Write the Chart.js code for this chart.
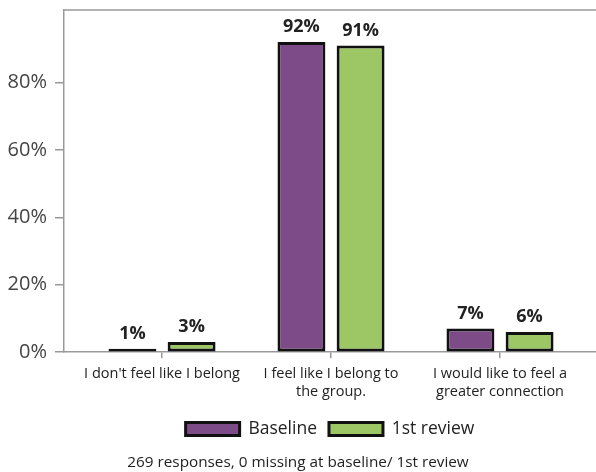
<!DOCTYPE html>
<html>
<head>
<meta charset="utf-8">
<script src="https://cdn.jsdelivr.net/npm/chart.js@4"></script>
<style>
  body { margin: 0; background: #fff; }
  #wrap { width: 596px; height: 472px; }
</style>
</head>
<body>
<div id="wrap"><canvas id="myBarChart"></canvas></div>
<script>
let categories = [
    ["I don't feel like I belong"],
    ["I feel like I belong to", "the group."],
    ["I would like to feel a", "greater connection"]
];
let seriesNames = ["Baseline", "1st review"];
let baseline = [1, 92, 7];
let review = [3, 91, 6];
let yTicks = [0, 20, 40, 60, 80];
let footnote = "269 responses, 0 missing at baseline/ 1st review";

Chart.defaults.font.family = "'Open Sans', sans-serif";

// percent labels above each bar
const barLabels = {
    id: "barLabels",
    afterDatasetsDraw(chart) {
        const ctx = chart.ctx;
        ctx.save();
        ctx.font = "bold 18px 'Open Sans', sans-serif";
        ctx.fillStyle = "#222";
        ctx.textAlign = "center";
        ctx.textBaseline = "bottom";
        chart.data.datasets.forEach((ds, i) => {
            chart.getDatasetMeta(i).data.forEach((bar, j) => {
                ctx.fillText(ds.data[j].y + "%", bar.x, bar.y - 6);
            });
        });
        ctx.restore();
    }
};

// top frame line, legend centred under the plot area
const frameTop = {
    id: "frameTop",
    afterLayout(chart) {
        if (chart.legend) chart.legend.left = chart.chartArea.left;
    },
    beforeDatasetsDraw(chart) {
        const a = chart.chartArea;
        const ctx = chart.ctx;
        ctx.save();
        ctx.strokeStyle = "#999";
        ctx.lineWidth = 1.5;
        ctx.beginPath();
        ctx.moveTo(a.left, a.top);
        ctx.lineTo(a.right, a.top);
        ctx.stroke();
        ctx.restore();
    }
};

function points(values) {
    return values.map((v, i) => ({x: i, y: v}));
}

new Chart(document.getElementById("myBarChart"), {
    type: "bar",
    data: {
        datasets: [
            {
                label: seriesNames[0],
                data: points(baseline),
                backgroundColor: "#7e4b89",
                borderColor: "#111",
                borderWidth: 3,
                borderSkipped: false
            },
            {
                label: seriesNames[1],
                data: points(review),
                backgroundColor: "#9cc764",
                borderColor: "#111",
                borderWidth: 3,
                borderSkipped: false
            }
        ]
    },
    options: {
        responsive: true,
        maintainAspectRatio: false,
        animation: false,
        categoryPercentage: 0.70,
        barPercentage: 0.81,
        layout: {padding: {top: 10, left: 0, right: 0, bottom: 0}},
        scales: {
            x: {
                type: "linear",
                offset: false,
                min: -0.58,
                max: 2.568,
                afterBuildTicks: (scale) => {
                    scale.ticks = categories.map((c, i) => ({value: i}));
                },
                afterFit: (scale) => { scale.height = 56; },
                border: {color: "#999", width: 1.5},
                grid: {offset: false, drawOnChartArea: false, tickLength: 6, color: "#999", lineWidth: 1.5},
                ticks: {
                    autoSkip: false,
                    maxRotation: 0,
                    padding: 7,
                    color: "#222",
                    font: {size: 14.5, lineHeight: 1.25},
                    callback: (v) => categories[v]
                }
            },
            y: {
                min: 0,
                max: 101.5,
                afterBuildTicks: (scale) => {
                    scale.ticks = yTicks.map((v) => ({value: v}));
                },
                afterFit: (scale) => {
                    scale.width = 64;
                    scale.paddingTop = 0;
                    scale.paddingBottom = 0;
                },
                border: {color: "#999", width: 1.5},
                grid: {drawOnChartArea: false, tickLength: 9, color: "#999", lineWidth: 1.5},
                ticks: {
                    padding: 8,
                    color: "#444",
                    font: {size: 20},
                    callback: (v) => v + "%"
                }
            }
        },
        plugins: {
            legend: {
                position: "bottom",
                labels: {
                    boxWidth: 54,
                    boxHeight: 13,
                    padding: 12,
                    color: "#222",
                    font: {size: 17.5}
                }
            },
            subtitle: {
                display: true,
                position: "bottom",
                text: footnote,
                color: "#222",
                font: {size: 15.3, weight: "normal"},
                padding: {top: 6, bottom: 0}
            },
            tooltip: {enabled: false}
        }
    },
    plugins: [barLabels, frameTop]
});
</script>
</body>
</html>
